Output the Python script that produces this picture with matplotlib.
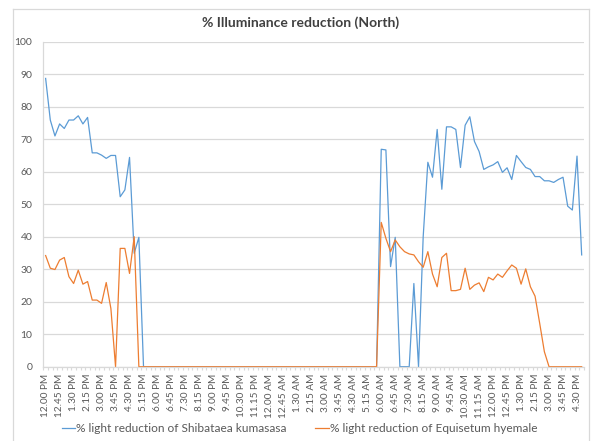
import matplotlib.pyplot as plt
import numpy as np
from matplotlib.lines import Line2D

plt.rcParams['font.family'] = ['Lato', 'DejaVu Sans']

# 15 minute readings, 12.00 PM to 4.45 PM next day
shibataea = [88.7, 75.9, 71.0, 74.7, 73.3, 75.9, 75.9, 77.2, 74.7, 76.7,
             65.8, 65.8, 65.1, 64.1, 65.0, 65.0, 52.3, 54.4, 64.4, 34.9,
             39.8] + [0] * 51 + [
             66.9, 66.7, 30.8, 39.8, 0, 0, 0, 25.6, 0, 40.0,
             62.9, 58.3, 73.0, 54.6, 73.8, 73.8, 73.0, 61.3, 74.3, 76.9,
             69.3, 66.2, 60.7, 61.5, 62.1, 63.1, 59.8, 61.2, 57.6, 65.0,
             63.1, 61.3, 60.7, 58.5, 58.5, 57.2, 57.2, 56.7, 57.6, 58.3,
             49.4, 48.2, 64.8, 34.4]
equisetum = [34.2, 30.3, 29.9, 32.8, 33.6, 27.7, 25.6, 29.7, 25.4, 26.2,
             20.5, 20.5, 19.5, 25.9, 17.9, 0, 36.4, 36.4, 28.7, 40.0] + [0] * 52 + [
             44.4, 39.5, 35.4, 39.0, 36.9, 35.4, 34.7, 34.4, 32.3, 30.6,
             35.4, 28.5, 24.6, 33.6, 34.9, 23.4, 23.4, 23.8, 30.3, 23.8,
             25.1, 25.8, 23.1, 27.5, 26.7, 28.5, 27.5, 29.5, 31.3, 30.3,
             25.4, 30.1, 24.6, 21.7, 13.3, 4.6, 0] + [0] * 7

# labels shown on the axis (every third reading)
time_labels = ['12.00 PM', '12.45 PM', '1.30 PM', '2.15 PM', '3.00 PM', '3.45 PM',
               '4.30 PM', '5.15 PM', '6.00 PM', '6.45 PM', '7.30 PM', '8.15 PM',
               '9.00 PM', '9.45 PM', '10.30 PM', '11.15 PM', '12.00 AM', '12.45 AM',
               '1.30 AM', '2.15 AM', '3.00 AM', '3.45 AM', '4.30 AM', '5.15 AM',
               '6.00 AM', '6.45 AM', '7.30 AM', '8.15 AM', '9.00 AM', '9.45 AM',
               '10.30 AM', '11.15 AM', '12.00 PM', '12.45 PM', '1.30 PM', '2.15 PM',
               '3.00 PM', '3.45 PM', '4.30 PM']

blue = '#5B9BD5'
orange = '#ED7D31'
grey = '#595959'
grid = '#D9D9D9'

fig = plt.figure(figsize=(5.92, 4.41), dpi=100)
ax = fig.add_axes([43.3 / 592, 1 - 366.7 / 441, (584 - 43.3) / 592, (366.7 - 41.7) / 441])

x = np.arange(len(shibataea))
ax.plot(x, shibataea, color=blue, lw=0.9, label='% light reduction of Shibataea kumasasa')
ax.plot(x, equisetum, color=orange, lw=0.9, label='% light reduction of Equisetum hyemale')

ax.set_xlim(-0.5, len(x) - 0.5)
ax.set_ylim(0, 100)
ax.set_yticks(np.arange(0, 101, 10))
ax.yaxis.grid(True, color=grid, lw=0.9)
ax.set_axisbelow(True)

ax.set_xticks(np.arange(0, len(x), 3))
ax.set_xticklabels(time_labels, rotation=90, fontsize=7.2, color=grey)
ax.set_xticks(np.arange(-0.5, len(x), 1), minor=True)
ax.tick_params(axis='x', which='major', length=0, pad=5)
ax.tick_params(axis='x', which='minor', length=2.5, color=grid, width=0.8)
ax.tick_params(axis='y', length=0, labelsize=7.5, labelcolor=grey, pad=8)

for s in ['top', 'right']:
    ax.spines[s].set_visible(False)
for s in ['left', 'bottom']:
    ax.spines[s].set_color(grid)
    ax.spines[s].set_linewidth(0.9)

fig.text(301 / 592, 1 - 23 / 441, '% Illuminance reduction (North)', ha='center', va='center',
         fontsize=10, fontweight='bold', color='#404040')

fig.legend(loc='center', bbox_to_anchor=(0.506, 1 - 429 / 441), ncol=2, frameon=False,
           fontsize=8.6, handlelength=1.1, handletextpad=0.1, columnspacing=2.4,
           labelcolor=grey)

# chart area border
bx0, by0, bx1 = 13 / 592, 1 - 9 / 441, 589 / 592
for xs, ys in [([bx0, bx0], [0, by0]), ([bx0, bx1], [by0, by0]), ([bx1, bx1], [by0, 0])]:
    fig.add_artist(Line2D(xs, ys, color=grid, lw=0.9))

fig.savefig('out.png', dpi=100)
